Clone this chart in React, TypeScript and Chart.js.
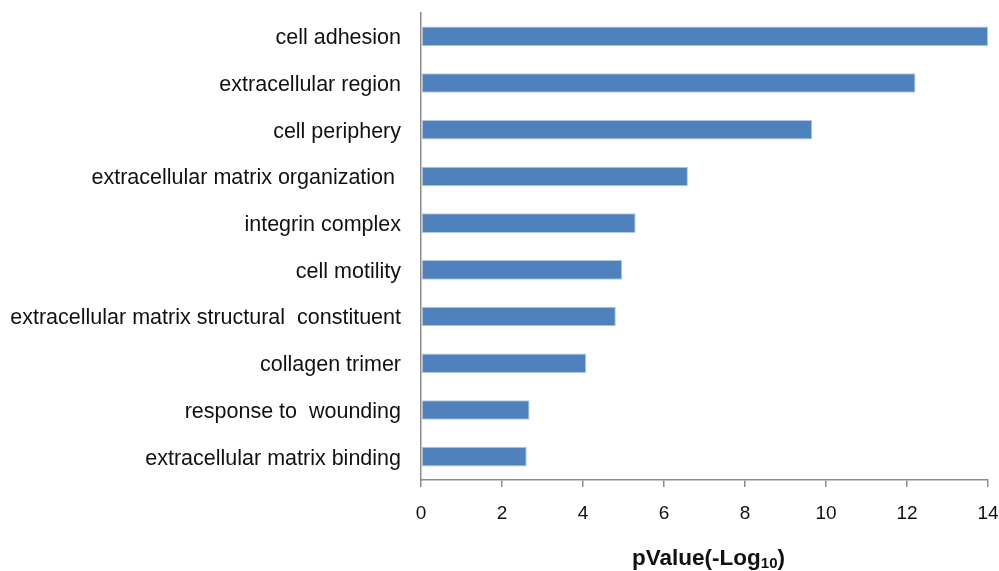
import React, { useEffect, useRef } from "react";
import { Chart, registerables } from "chart.js";

Chart.register(...registerables);

const terms = [
  "cell adhesion",
  "extracellular region",
  "cell periphery",
  "extracellular matrix organization ",
  "integrin complex",
  "cell motility",
  "extracellular matrix structural  constituent",
  "collagen trimer",
  "response to  wounding",
  "extracellular matrix binding",
];

const negLogP = [14.0, 12.21, 9.66, 6.59, 5.3, 4.97, 4.81, 4.08, 2.68, 2.61];

const xTicks = [0, 2, 4, 6, 8, 10, 12, 14];

const FONT = "'Liberation Sans', Arial, sans-serif";
const AXIS_GREY = "#8c8c8c";

// Axis title with a subscript base: pValue(-Log10)
const axisTitlePlugin = {
  id: "axisTitle",
  afterDraw(chart: any) {
    const { ctx, chartArea } = chart;
    const cx = (chartArea.left + chartArea.right) / 2 + 4;
    const baseline = 565;
    const mainFont = `bold 22.5px ${FONT}`;
    const subFont = `bold 15px ${FONT}`;
    ctx.save();
    ctx.fillStyle = "#111";
    ctx.textBaseline = "alphabetic";
    ctx.textAlign = "left";
    ctx.font = mainFont;
    const a = "pValue(-Log";
    const c = ")";
    const wa = ctx.measureText(a).width;
    const wc = ctx.measureText(c).width;
    ctx.font = subFont;
    const b = "10";
    const wb = ctx.measureText(b).width;
    let x = cx - (wa + wb + wc) / 2;
    ctx.font = mainFont;
    ctx.fillText(a, x, baseline);
    x += wa;
    ctx.font = subFont;
    ctx.fillText(b, x, baseline + 3);
    x += wb;
    ctx.font = mainFont;
    ctx.fillText(c, x, baseline);
    ctx.restore();
  },
};

export default function App() {
  const canvasRef = useRef<HTMLCanvasElement | null>(null);

  useEffect(() => {
    if (!canvasRef.current) return;
    const chart = new Chart(canvasRef.current, {
      type: "bar",
      data: {
        labels: terms,
        datasets: [
          {
            data: negLogP,
            backgroundColor: "#4F81BD",
            borderColor: "#B3C8E3",
            borderWidth: 1,
            borderSkipped: false,
            categoryPercentage: 1,
            barPercentage: 0.42,
          },
        ],
      },
      options: {
        indexAxis: "y",
        animation: false,
        responsive: false,
        maintainAspectRatio: false,
        layout: { padding: { left: 0, right: 11, top: 13, bottom: 0 } },
        plugins: {
          legend: { display: false },
          tooltip: { enabled: false },
          title: { display: false },
        },
        scales: {
          x: {
            min: 0,
            max: 14,
            afterBuildTicks: (scale: any) => {
              scale.ticks = xTicks.map((v) => ({ value: v }));
            },
            afterFit: (scale: any) => {
              scale.height = 91;
              scale.paddingLeft = 0;
              scale.paddingRight = 0;
            },
            grid: {
              drawOnChartArea: false,
              drawTicks: true,
              tickLength: 7,
              color: AXIS_GREY,
              lineWidth: 1.5,
            },
            border: { display: true, color: AXIS_GREY, width: 1.5 },
            ticks: {
              padding: 15,
              color: "#111",
              font: { family: FONT, size: 19 },
              maxRotation: 0,
            },
          },
          y: {
            afterFit: (scale: any) => {
              scale.width = 421;
              scale.paddingTop = 0;
              scale.paddingBottom = 0;
            },
            grid: { drawOnChartArea: false, drawTicks: false },
            border: { display: true, color: AXIS_GREY, width: 1.5 },
            ticks: {
              padding: 20,
              labelOffset: 2,
              color: "#111",
              font: { family: FONT, size: 21.5 },
              autoSkip: false,
            },
          },
        },
      },
      plugins: [axisTitlePlugin],
    });
    return () => chart.destroy();
  }, []);

  return (
    <div
      style={{
        position: "absolute",
        left: 0,
        top: 0,
        width: 999,
        height: 571,
        background: "#fff",
      }}
    >
      <canvas ref={canvasRef} width={999} height={571} />
    </div>
  );
}
